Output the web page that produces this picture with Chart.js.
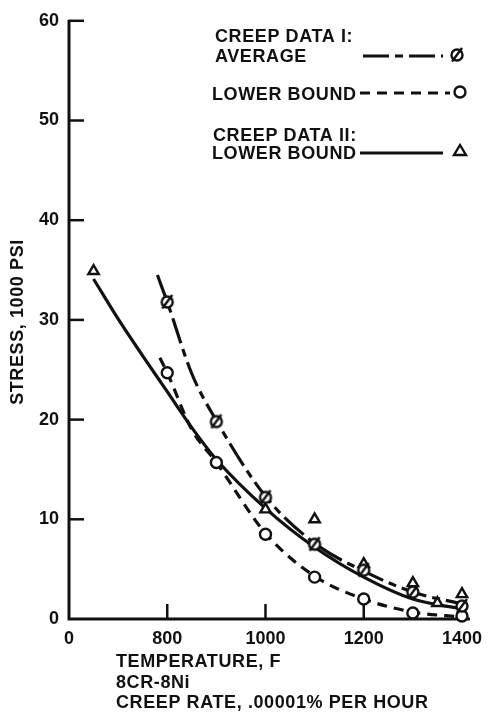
<!DOCTYPE html>
<html>
<head>
<meta charset="utf-8">
<script src="https://cdn.jsdelivr.net/npm/chart.js@4.4.0/dist/chart.umd.min.js"></script>
<style>
  html, body { margin: 0; padding: 0; background: #fff; }
</style>
</head>
<body>
<canvas id="creep" width="491" height="715"></canvas>
<script>
const INK = '#111';
const FONT = '"Liberation Sans", Arial, sans-serif';

// measured points: temperature (F) and stress (1000 psi)
const avgTemps = [800, 900, 1000, 1100, 1200, 1300, 1400];
const avgStress = [31.8, 19.8, 12.2, 7.5, 4.9, 2.7, 1.3];
const lowTemps = [800, 900, 1000, 1100, 1200, 1300, 1400];
const lowStress = [24.7, 15.7, 8.5, 4.2, 2.0, 0.6, 0.3];
const twoTemps = [650, 1000, 1100, 1200, 1300, 1350, 1400];
const twoStress = [34.9, 11.0, 10.0, 5.5, 3.6, 1.6, 2.5];

// faired curves
const avgCurveT = [780, 800, 850, 900, 1000, 1100, 1200, 1300, 1400];
const avgCurveS = [34.5, 31.8, 24.6, 19.9, 12.3, 7.6, 4.8, 2.7, 1.5];
const lowCurveT = [785, 800, 850, 900, 1000, 1100, 1200, 1300, 1400];
const lowCurveS = [26.2, 24.7, 19.0, 15.7, 8.6, 4.3, 2.0, 0.7, 0.2];
const twoCurveT = [650, 700, 750, 800, 850, 900, 1000, 1100, 1200, 1300, 1400];
const twoCurveS = [34.1, 30.1, 26.4, 22.8, 19.2, 16.0, 11.1, 7.2, 4.2, 2.0, 1.0];

const xTicks = [600, 800, 1000, 1200, 1400];
const xTickLabels = ['0', '800', '1000', '1200', '1400'];
const yTicks = [0, 10, 20, 30, 40, 50, 60];

const xTitle = ['TEMPERATURE, F', '8CR-8Ni', 'CREEP RATE, .00001% PER HOUR'];
const yTitle = 'STRESS, 1000 PSI';

const AVG_DASH = [26, 6, 8, 6];
const LOW_DASH = [10, 7];

function pts(xs, ys) {
    return xs.map((x, i) => ({ x: x, y: ys[i] }));
}

// circle with a slash through it
function slashCircle() {
    const c = document.createElement('canvas');
    c.width = 20; c.height = 20;
    const g = c.getContext('2d');
    g.fillStyle = '#fff';
    g.strokeStyle = INK;
    g.lineWidth = 2.4;
    g.beginPath();
    g.arc(10, 10, 5.5, 0, Math.PI * 2);
    g.fill();
    g.stroke();
    g.beginPath();
    g.moveTo(5, 16.5);
    g.lineTo(15, 3);
    g.stroke();
    return c;
}
const slashImg = slashCircle();

function curve(data, dash) {
    return {
        type: 'scatter', data: data, showLine: true, borderColor: INK, borderWidth: 3.2,
        borderDash: dash, pointRadius: 0, cubicInterpolationMode: 'monotone', order: 2, clip: false
    };
}
function marks(data, style, r) {
    return {
        type: 'scatter', data: data, pointStyle: style, pointRadius: r, borderColor: INK,
        backgroundColor: '#fff', pointBorderWidth: 2.4, order: 0, clip: false
    };
}

// axes with inward ticks, like the original
const axesPlugin = {
    id: 'axes',
    beforeDatasetsDraw(chart) {
        const ctx = chart.ctx;
        const xs = chart.scales.x, ys = chart.scales.y;
        const x0 = xs.getPixelForValue(600), y0 = ys.getPixelForValue(0);
        ctx.save();
        ctx.strokeStyle = INK;
        ctx.lineWidth = 3;
        ctx.beginPath();
        ctx.moveTo(x0, ys.getPixelForValue(60) - 1);
        ctx.lineTo(x0, y0);
        ctx.lineTo(xs.getPixelForValue(1400) + 8, y0);
        ctx.stroke();
        ctx.lineWidth = 2.5;
        yTicks.slice(1).forEach(v => {
            const y = ys.getPixelForValue(v);
            ctx.beginPath(); ctx.moveTo(x0, y); ctx.lineTo(x0 + 15, y); ctx.stroke();
        });
        xTicks.slice(1).forEach(v => {
            const x = xs.getPixelForValue(v);
            ctx.beginPath(); ctx.moveTo(x, y0); ctx.lineTo(x, y0 - 15); ctx.stroke();
        });
        ctx.restore();
    },
    afterDraw(chart) {
        const ctx = chart.ctx;
        ctx.save();
        ctx.fillStyle = INK;
        ctx.font = 'bold 18px ' + FONT;
        ctx.letterSpacing = '0.6px';
        ctx.textBaseline = 'alphabetic';
        ctx.textAlign = 'left';
        // x titles
        ctx.fillText(xTitle[0], 116, 667);
        ctx.fillText(xTitle[1], 116, 688);
        ctx.fillText(xTitle[2], 116, 708);
        // y title
        ctx.save();
        ctx.translate(23, 322);
        ctx.rotate(-Math.PI / 2);
        ctx.textAlign = 'center';
        ctx.fillText(yTitle, 0, 0);
        ctx.restore();

        // legend
        ctx.fillText('CREEP DATA I:', 215, 42);
        ctx.fillText('AVERAGE', 215, 62);
        ctx.fillText('LOWER BOUND', 212, 100);
        ctx.fillText('CREEP DATA II:', 213, 141);
        ctx.fillText('LOWER BOUND', 212, 159);

        ctx.strokeStyle = INK;
        ctx.lineWidth = 3;
        const sample = (x1, x2, y, dash) => {
            ctx.setLineDash(dash);
            ctx.beginPath(); ctx.moveTo(x1, y); ctx.lineTo(x2, y); ctx.stroke();
        };
        sample(363, 443, 56, AVG_DASH);
        sample(360, 450, 93, LOW_DASH);
        sample(360, 443, 153, []);
        ctx.setLineDash([]);
        ctx.drawImage(slashImg, 457 - 10, 55 - 10);
        ctx.lineWidth = 2.4;
        ctx.fillStyle = '#fff';
        ctx.beginPath(); ctx.arc(460, 92, 5.5, 0, Math.PI * 2); ctx.fill(); ctx.stroke();
        ctx.beginPath();
        ctx.moveTo(460, 145); ctx.lineTo(466, 155); ctx.lineTo(454, 155); ctx.closePath();
        ctx.stroke();
        ctx.restore();
    }
};

new Chart(document.getElementById('creep'), {
    data: {
        datasets: [
            curve(pts(avgCurveT, avgCurveS), AVG_DASH),
            curve(pts(lowCurveT, lowCurveS), LOW_DASH),
            curve(pts(twoCurveT, twoCurveS), []),
            marks(pts(avgTemps, avgStress), slashImg, 6),
            marks(pts(lowTemps, lowStress), 'circle', 5.5),
            marks(pts(twoTemps, twoStress), 'triangle', 6)
        ]
    },
    options: {
        responsive: false,
        devicePixelRatio: 1,
        animation: false,
        layout: { padding: { top: 17, right: 22, bottom: 0, left: 0 } },
        plugins: { legend: { display: false }, tooltip: { enabled: false } },
        scales: {
            x: {
                type: 'linear', min: 600, max: 1400,
                afterBuildTicks: s => { s.ticks = xTicks.map(v => ({ value: v })); },
                afterFit: s => { s.height = 96; },
                grid: { display: false, drawTicks: false },
                border: { display: false },
                ticks: {
                    color: INK, padding: 9, maxRotation: 0, autoSkip: false,
                    font: { family: FONT, size: 18, weight: 'bold' },
                    callback: v => xTickLabels[xTicks.indexOf(v)]
                }
            },
            y: {
                type: 'linear', min: 0, max: 60,
                afterBuildTicks: s => { s.ticks = yTicks.map(v => ({ value: v })); },
                afterFit: s => { s.width = 69; },
                grid: { display: false, drawTicks: false },
                border: { display: false },
                ticks: {
                    color: INK, padding: 10,
                    font: { family: FONT, size: 18, weight: 'bold' }
                }
            }
        }
    },
    plugins: [axesPlugin]
});
</script>
</body>
</html>
